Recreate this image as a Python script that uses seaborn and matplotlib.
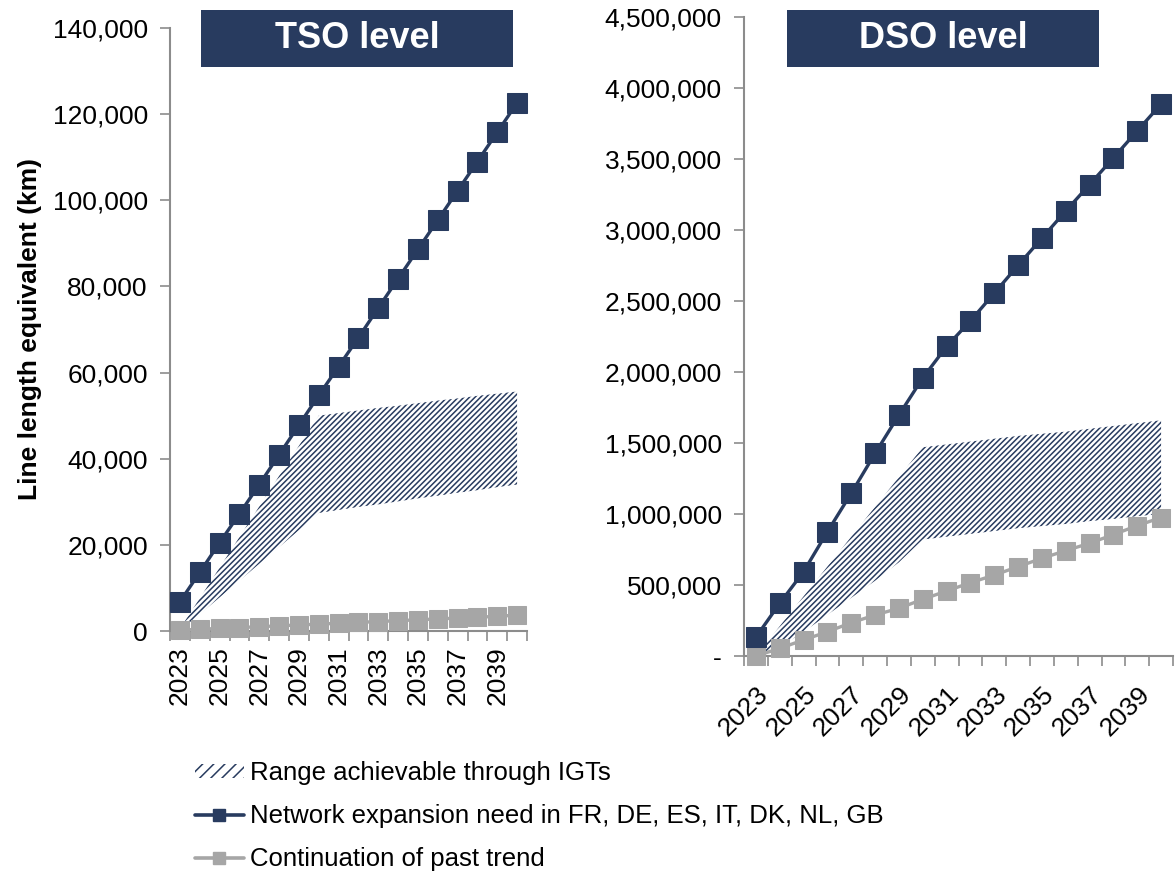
"""
Line length equivalent needed at TSO and DSO level, 2023-2040.
Two panels: network expansion need, continuation of past trend,
and the hatched range achievable through IGTs.
"""

import numpy as np
import pandas as pd
import matplotlib
matplotlib.use("Agg")
import matplotlib.pyplot as plt
from matplotlib.patches import Rectangle, Patch
from matplotlib.lines import Line2D
from matplotlib.ticker import FuncFormatter
import seaborn as sns

# ---- data ----
years = list(range(2023, 2041))

tso_need = [6800, 13600, 20500, 27200, 34000, 40900, 47800, 54700, 61400,
            68100, 75000, 81800, 88600, 95400, 102200, 109000, 115800, 122600]
tso_trend = [200, 400, 600, 800, 1000, 1200, 1400, 1600, 1800,
             2000, 2200, 2400, 2600, 2800, 3000, 3200, 3400, 3700]
tso_igt_low = [0, 3900, 7800, 11700, 15600, 19500, 23400, 27400, 28100,
               28800, 29400, 30100, 30800, 31400, 32100, 32700, 33400, 34000]
tso_igt_high = [500, 7600, 14700, 21800, 28900, 36000, 43000, 50000, 50600,
                51200, 51800, 52300, 52900, 53500, 54000, 54600, 55100, 55600]

dso_need = [133000, 371000, 594000, 875000, 1146000, 1427000, 1697000, 1958000,
            2180000, 2360000, 2555000, 2751000, 2943000, 3134000, 3320000,
            3508000, 3698000, 3887000]
dso_trend = [0, 54000, 113000, 171000, 234000, 289000, 336000, 399000, 458000,
             516000, 570000, 629000, 688000, 742000, 794000, 855000, 918000, 975000]
dso_igt_low = [0, 60000, 170000, 290000, 410000, 530000, 660000, 820000, 840000,
               860000, 880000, 900000, 915000, 930000, 950000, 965000, 985000, 1000000]
dso_igt_high = [0, 210000, 420000, 630000, 840000, 1050000, 1260000, 1470000,
                1490000, 1510000, 1530000, 1550000, 1565000, 1580000, 1600000,
                1620000, 1640000, 1660000]

labels = ["Range achievable through IGTs",
          "Network expansion need in FR, DE, ES, IT, DK, NL, GB",
          "Continuation of past trend"]

NAVY = "#283B5F"
GREY = "#A6A6A6"
AXIS = "#8C8C8C"

sns.set_theme(style="white")
plt.rcParams["font.family"] = ["Liberation Sans", "DejaVu Sans"]
plt.rcParams["hatch.linewidth"] = 1.1
plt.rcParams["text.color"] = "black"

W, H = 1176, 872
fig = plt.figure(figsize=(W / 100, H / 100), dpi=100)


def fig_rect(x0, y0, x1, y1):
    """pixel box (top-left origin) -> figure fraction rect"""
    return [x0 / W, 1 - y1 / H, (x1 - x0) / W, (y1 - y0) / H]


ax_tso = fig.add_axes(fig_rect(170, 28, 527, 631))
ax_dso = fig.add_axes(fig_rect(744, 17, 1173, 656))


def draw_panel(ax, need, trend, low, high, ymax, ystep, zero_dash, rot, xpad):
    df = pd.DataFrame({"year": years, "need": need, "trend": trend,
                       "low": low, "high": high})

    ax.fill_between(df["year"], df["low"], df["high"], facecolor="none",
                    edgecolor=NAVY, hatch="//////", linewidth=0, zorder=1)

    sns.lineplot(data=df, x="year", y="trend", ax=ax, color=GREY,
                 linewidth=2.4, marker="s", markersize=13,
                 markeredgecolor=GREY, clip_on=False, zorder=3)
    sns.lineplot(data=df, x="year", y="need", ax=ax, color=NAVY,
                 linewidth=2.4, marker="s", markersize=14,
                 markeredgecolor=NAVY, clip_on=False, zorder=4)

    ax.set_xlim(years[0] - 0.5, years[-1] + 0.5)
    ax.set_ylim(0, ymax)
    ax.set_yticks(np.arange(0, ymax + 1, ystep))

    def fmt(v, _):
        if v == 0 and zero_dash:
            return "-"
        return f"{int(v):,}"
    ax.yaxis.set_major_formatter(FuncFormatter(fmt))

    # tick marks on category boundaries, labels on category centres
    ax.set_xticks(np.arange(years[0] - 0.5, years[-1] + 1, 1.0))
    ax.set_xticklabels([])
    ax.set_xticks(years[::2], minor=True)
    ax.set_xticklabels([str(y) for y in years[::2]], minor=True,
                       rotation=rot, ha="center" if rot == 90 else "right",
                       va="top", rotation_mode="anchor" if rot != 90 else "default")

    ax.tick_params(axis="x", which="major", direction="out", length=7,
                   width=1.2, color=AXIS, bottom=True)
    ax.tick_params(axis="x", which="minor", length=0, labelsize=19,
                   pad=xpad, bottom=True, labelcolor="black")
    ax.tick_params(axis="y", direction="out", length=7, width=1.2,
                   color=AXIS, labelsize=19, pad=9, left=True,
                   labelcolor="black")

    for s in ["top", "right"]:
        ax.spines[s].set_visible(False)
    for s in ["left", "bottom"]:
        ax.spines[s].set_color(AXIS)
        ax.spines[s].set_linewidth(1.5)
    ax.set_xlabel("")
    ax.set_ylabel("")
    ax.grid(False)


draw_panel(ax_tso, tso_need, tso_trend, tso_igt_low, tso_igt_high,
           140000, 20000, False, 90, 11)
draw_panel(ax_dso, dso_need, dso_trend, dso_igt_low, dso_igt_high,
           4500000, 500000, True, 45, 19)

fig.text(30 / W, 1 - 329 / H, "Line length equivalent (km)", fontsize=19,
         fontweight="bold", rotation=90, ha="center", va="center")

# title boxes
for (x0, x1), title in [((201, 513), "TSO level"), ((787, 1099), "DSO level")]:
    r = fig_rect(x0, 10, x1, 67)
    fig.add_artist(Rectangle((r[0], r[1]), r[2], r[3], transform=fig.transFigure,
                             facecolor=NAVY, edgecolor="none", zorder=5))
    fig.text(r[0] + r[2] / 2, r[1] + r[3] / 2, title, color="white",
             fontsize=26, fontweight="bold", ha="center", va="center",
             zorder=6)

# legend
handles = [
    Patch(facecolor="none", edgecolor=NAVY, hatch="///", linewidth=0),
    Line2D([], [], color=NAVY, linewidth=2.6, marker="s", markersize=9),
    Line2D([], [], color=GREY, linewidth=2.6, marker="s", markersize=9),
]
fig.legend(handles, labels, loc="upper left",
           bbox_to_anchor=(195 / W, 1 - 761 / H), frameon=False,
           fontsize=18.5, handlelength=1.9, handleheight=0.5,
           handletextpad=0.25, labelspacing=0.74, borderaxespad=0,
           borderpad=0)

fig.savefig("out.png", dpi=100)
